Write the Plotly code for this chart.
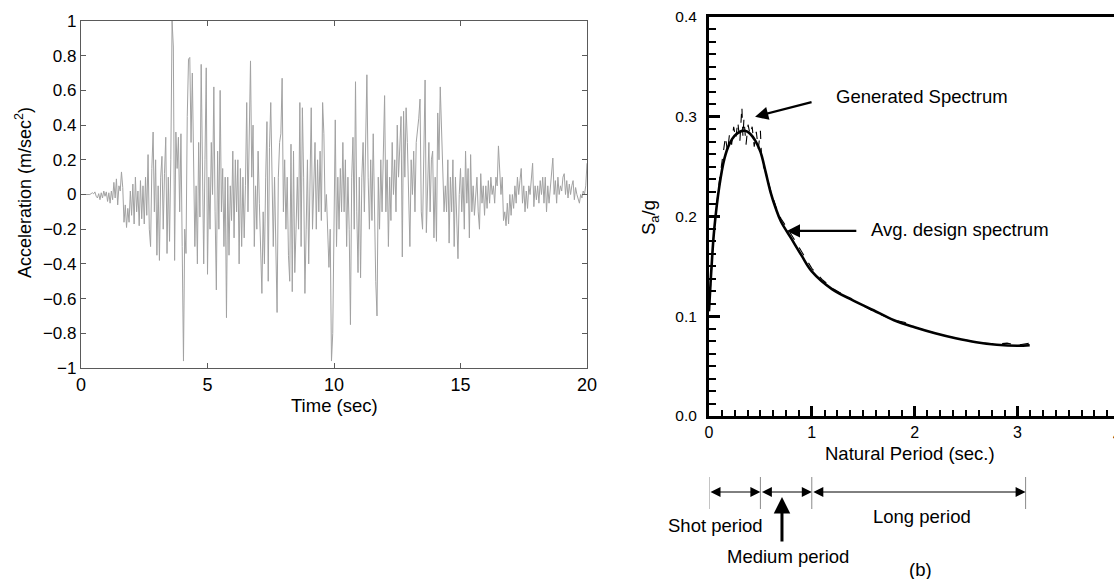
import plotly.graph_objects as go

# ---------------- Left panel: acceleration time history ----------------
TIME_STEP = 0.05  # seconds between samples
accel = [
    # 0-1 s
    0, 0, 0, 0, 0.002, 0, 0.003, 0, 0.005, 0.01, 0.004, 0.015, -0.01, -0.02, 0.005, -0.03, 0.01, -0.02, 0.02, -0.01,
    # 1-2 s
    0.015, -0.04, 0.01, -0.05, 0.02, -0.03, 0.07, -0.02, 0.09, -0.06, 0.05, 0.02, 0.13, 0.04, -0.16, -0.06, -0.19, -0.08, -0.16, 0.02,
    # 2-3 s
    -0.12, 0.06, -0.17, 0.1, -0.1, 0.02, -0.18, 0.08, -0.14, 0.05, -0.17, 0.1, -0.12, 0.23, -0.2, -0.3, 0.15, 0.36, -0.1, 0.2,
    # 3-4 s
    -0.35, 0.05, -0.38, 0.1, 0.22, -0.2, 0.12, 0.33, -0.34, 0.1, -0.27, 0.2, 1.0, 0.85, -0.38, 0.36, 0.15, 0.33, -0.1, 0.35,
    # 4-5 s
    -0.3, -0.96, -0.2, -0.34, 0.45, 0.78, 0.79, 0.3, 0.7, 0.2, -0.3, 0.05, -0.4, 0.3, -0.13, 0.75, -0.05, -0.4, 0.2, 0.73,
    # 5-6 s
    -0.46, 0.1, -0.2, 0.3, 0.0, 0.62, -0.1, -0.55, 0.25, -0.2, 0.6, -0.1, 0.15, -0.3, 0.1, -0.71, 0.1, -0.35, 0.05, -0.15,
    # 6-7 s
    0.25, -0.25, 0.2, -0.1, 0.2, -0.4, 0.15, -0.3, 0.1, -0.25, 0.05, 0.53, -0.1, 0.4, 0.77, 0.1, 0.4, -0.3, 0.05, -0.2,
    # 7-8 s
    0.25, -0.05, -0.3, -0.57, -0.1, -0.4, 0.1, 0.42, -0.5, 0.27, 0.53, 0.1, -0.3, 0.1, -0.2, -0.68, 0.1, 0.3, 0.35, 0.67,
    # 8-9 s
    -0.1, 0.2, -0.2, 0.1, -0.35, -0.5, 0.29, -0.56, 0.25, -0.45, -0.2, 0.1, -0.2, 0.53, -0.3, 0.5, 0.1, -0.57, -0.2, 0.2,
    # 9-10 s
    -0.4, 0.0, 0.5, -0.2, 0.1, 0.3, -0.2, 0.2, -0.1, 0.25, -0.15, 0.53, 0.35, -0.1, 0.0, -0.25, -0.42, -0.2, -0.96, -0.8,
    # 10-11 s
    -0.3, 0.43, -0.3, 0.1, -0.2, 0.15, -0.1, 0.3, -0.1, 0.2, -0.3, 0.1, -0.2, -0.75, 0.1, 0.33, -0.2, 0.65, -0.1, -0.45,
    # 11-12 s
    0.1, -0.48, 0.1, 0.3, -0.1, 0.4, 0.69, 0.1, -0.2, 0.2, -0.15, 0.35, -0.1, -0.5, -0.7, 0.1, -0.2, 0.2, -0.1, 0.3,
    # 12-13 s
    0.57, -0.1, 0.2, -0.3, 0.1, -0.15, 0.3, 0.0, 0.2, -0.1, 0.4, 0.1, 0.3, 0.45, -0.36, 0.48, 0.1, 0.5, 0.3, -0.1,
    # 13-14 s
    -0.3, 0.2, 0.0, 0.25, -0.1, 0.3, 0.36, 0.44, 0.55, -0.1, -0.2, 0.2, 0.66, -0.22, 0.1, 0.3, -0.1, 0.2, 0.25, -0.25,
    # 14-15 s
    0.1, -0.27, 0.47, 0.2, 0.62, 0.4, 0.15, -0.1, 0.05, -0.1, 0.2, -0.28, 0.1, -0.1, 0.2, -0.3, 0.1, -0.2, -0.37, 0.0,
    # 15-16 s
    0.15, -0.1, 0.1, -0.2, 0.25, -0.05, 0.15, -0.25, 0.23, -0.1, 0.05, -0.12, 0.0, 0.1, -0.1, -0.2, 0.12, -0.05, 0.05, -0.12,
    # 16-17 s
    0.05, -0.08, 0.08, -0.05, 0.1, 0.0, 0.05, -0.05, 0.1, 0.05, 0.28, 0.1, 0.0, 0.1, -0.15, -0.1, -0.18, -0.05, -0.17, 0.0,
    # 17-18 s
    -0.12, 0.0, -0.08, 0.05, -0.05, 0.1, 0.0, 0.08, 0.15, -0.05, 0.05, -0.1, 0.02, -0.08, 0.05, 0.0, 0.1, 0.18, -0.07, 0.05,
    # 18-19 s
    -0.03, 0.05, -0.05, 0.08, 0.0, 0.1, -0.05, 0.1, -0.1, 0.05, -0.05, 0.05, 0.12, 0.21, 0.0, 0.08, -0.05, 0.1, 0.0, 0.05,
    # 19-20 s
    0.02, 0.1, 0.12, 0.0, 0.08, -0.02, 0.06, 0.0, 0.05, 0.08, -0.03, 0.04, 0.0, -0.03, -0.05, 0.0, -0.02, 0.02, 0.0, 0.05, 0.18,
]
time = [round(i * TIME_STEP, 3) for i in range(len(accel))]

left_xticks = [0, 5, 10, 15, 20]
left_yticks = [-1, -0.8, -0.6, -0.4, -0.2, 0, 0.2, 0.4, 0.6, 0.8, 1]
left_yticklabels = ["\u22121", "\u22120.8", "\u22120.6", "\u22120.4", "\u22120.2", "0",
                    "0.2", "0.4", "0.6", "0.8", "1"]

# ---------------- Right panel: response spectra ----------------
avg_T = [0, 0.025, 0.05, 0.1, 0.15, 0.2, 0.25, 0.3, 0.35, 0.4, 0.45, 0.5, 0.55, 0.6, 0.65,
         0.7, 0.8, 0.9, 1.0, 1.2, 1.4, 1.6, 1.8, 2.0, 2.2, 2.4, 2.6, 2.8, 3.0, 3.12]
avg_Sa = [0.105, 0.15, 0.186, 0.23, 0.258, 0.273, 0.281, 0.285, 0.286, 0.283, 0.276, 0.265, 0.245,
          0.224, 0.208, 0.195, 0.178, 0.161, 0.145, 0.127, 0.116, 0.106, 0.096, 0.089, 0.083,
          0.078, 0.074, 0.0715, 0.0705, 0.071]

gen_T = [0, 0.025, 0.05, 0.1, 0.12, 0.14, 0.16, 0.18, 0.2, 0.22, 0.24, 0.26, 0.28, 0.30, 0.31,
         0.32, 0.33, 0.34, 0.36, 0.38, 0.40, 0.42, 0.44, 0.46, 0.48, 0.50, 0.51, 0.53, 0.55, 0.6,
         0.65, 0.7, 0.8, 0.9, 1.0, 1.1, 1.2, 1.4, 1.6, 1.8, 1.9, 2.0, 2.2, 2.4, 2.6, 2.8, 2.9,
         3.0, 3.12]
gen_Sa = [0.105, 0.152, 0.19, 0.235, 0.25, 0.262, 0.28, 0.265, 0.283, 0.272, 0.29, 0.278, 0.295,
          0.275, 0.3, 0.31, 0.28, 0.298, 0.272, 0.292, 0.282, 0.29, 0.27, 0.285, 0.268, 0.286,
          0.262, 0.25, 0.245, 0.226, 0.21, 0.198, 0.182, 0.165, 0.148, 0.137, 0.128, 0.116,
          0.105, 0.096, 0.094, 0.089, 0.083, 0.078, 0.074, 0.072, 0.073, 0.071, 0.073]

right_xticks = [0, 1, 2, 3]
right_yticks = [0.0, 0.1, 0.2, 0.3, 0.4]
right_yticklabels = ["0.0", "0.1", "0.2", "0.3", "0.4"]

# Period ranges (sec)
period_bounds = [0.0, 0.5, 1.0, 3.08]
medium_arrow_T = 0.71
generated_arrow_point = (0.448, 0.300)
avg_arrow_point = (0.757, 0.1855)

W, H = 1114, 579
FONT = "Liberation Sans, Arial, sans-serif"


def px(x):
    return x / W


def py(y):
    return (H - y) / H


fig = go.Figure()
fig.add_trace(go.Scatter(x=time, y=accel, mode="lines",
                         line=dict(color="#a2a2a2", width=1),
                         xaxis="x", yaxis="y", showlegend=False, hoverinfo="skip"))
fig.add_trace(go.Scatter(x=gen_T, y=gen_Sa, mode="lines",
                         line=dict(color="black", width=1.1, dash="dash"),
                         xaxis="x2", yaxis="y2", showlegend=False, hoverinfo="skip"))
fig.add_trace(go.Scatter(x=avg_T, y=avg_Sa, mode="lines",
                         line=dict(color="black", width=2.6, shape="spline"),
                         xaxis="x2", yaxis="y2", showlegend=False, hoverinfo="skip"))

grey = "#5a5a5a"
fig.update_layout(
    width=W, height=H, autosize=False,
    margin=dict(l=0, r=0, t=0, b=0, pad=0, autoexpand=False),
    paper_bgcolor="white", plot_bgcolor="white",
    font=dict(family=FONT, color="black", size=16),
    xaxis=dict(domain=[px(81), px(587)], range=[0, 20], anchor="y", automargin=False,
               tickmode="array", tickvals=left_xticks, ticks="inside", ticklen=5,
               tickcolor=grey, showline=True, linecolor=grey, linewidth=1.2,
               mirror="ticks", showgrid=False, zeroline=False,
               tickfont=dict(size=18)),
    yaxis=dict(domain=[py(368), py(21)], range=[-1, 1], anchor="x", automargin=False,
               tickmode="array", tickvals=left_yticks, ticktext=left_yticklabels,
               ticks="inside", ticklen=5, tickcolor=grey, showline=True,
               linecolor=grey, linewidth=1.2, mirror="ticks", showgrid=False,
               zeroline=False, tickfont=dict(size=17)),
    xaxis2=dict(domain=[px(709), 1.0], range=[0, 3.94], anchor="y2", automargin=False,
                tickmode="array", tickvals=right_xticks, ticks="inside", ticklen=10,
                tickwidth=3, tickcolor="black", showline=True, linecolor="black",
                linewidth=3, mirror=True, showgrid=False, zeroline=False,
                tickfont=dict(size=16),
                minor=dict(tickmode="linear", tick0=0, dtick=0.125, ticks="inside",
                           ticklen=6, tickwidth=2, tickcolor="black", showgrid=False)),
    yaxis2=dict(domain=[py(416), py(17)], range=[0, 0.4], anchor="x2", automargin=False,
                tickmode="array", tickvals=right_yticks, ticktext=right_yticklabels,
                ticks="inside", ticklen=11, tickwidth=3, tickcolor="black",
                showline=True, linecolor="black", linewidth=3, showgrid=False,
                zeroline=False, tickfont=dict(size=15.5), ticklabelstandoff=6,
                minor=dict(tickmode="linear", tick0=0, dtick=0.0125, ticks="inside",
                           ticklen=7, tickwidth=2, tickcolor="black", showgrid=False)),
)


def label(text, x, y, size=18.5, angle=0):
    return dict(text=text, x=px(x), y=py(y), xref="paper", yref="paper",
                xanchor="center", yanchor="middle", showarrow=False,
                textangle=angle, font=dict(size=size))


ann = []
# axis titles (placed as text)
ann.append(label("Acceleration (m/sec<sup>2</sup>)", 23, 193, 18, -90))
ann.append(label("Time (sec)", 334, 405))
ann.append(label("S<sub>a</sub>/g", 650, 218, 18.5, -90))
ann.append(label("Natural Period (sec.)", 910, 453))
ann.append(label("4", 1117, 435, 16))
# callouts
ann.append(label("Generated Spectrum", 922, 96))
ann.append(dict(text="", x=generated_arrow_point[0], y=generated_arrow_point[1], xref="x2",
                yref="y2", showarrow=True, ax=58, ay=-15, axref="pixel", ayref="pixel",
                arrowhead=2, arrowsize=1.2, arrowwidth=2.2, arrowcolor="black", standoff=0))
ann.append(label("Avg. design spectrum", 960, 229))
ann.append(dict(text="", x=avg_arrow_point[0], y=avg_arrow_point[1], xref="x2", yref="y2",
                showarrow=True, ax=71, ay=0, axref="pixel", ayref="pixel",
                arrowhead=2, arrowsize=1.2, arrowwidth=2.2, arrowcolor="black", standoff=0))
# period double arrows
bar_y = py(492)
for a, b in zip(period_bounds[:-1], period_bounds[1:]):
    ann.append(dict(text="", x=b, y=bar_y, xref="x2", yref="paper", ax=a, ay=0,
                    axref="x2", ayref="pixel", showarrow=True, arrowside="end+start",
                    arrowhead=2, startarrowhead=2, arrowsize=2, startarrowsize=2,
                    arrowwidth=1, arrowcolor="black", standoff=0, startstandoff=0))
ann.append(dict(text="", x=medium_arrow_T, y=py(497), xref="x2", yref="paper",
                ax=0, ay=46, axref="pixel", ayref="pixel", showarrow=True,
                arrowhead=2, arrowsize=1.1, arrowwidth=3, arrowcolor="black", standoff=0))
ann.append(label("Shot period", 715, 525))
ann.append(label("Medium period", 788, 556))
ann.append(label("Long period", 922, 516))
ann.append(label("(b)", 920, 569))
fig.update_layout(annotations=ann)

shapes = []
for b in period_bounds:
    shapes.append(dict(type="line", xref="x2", yref="paper", x0=b, x1=b,
                       y0=py(509), y1=py(477), line=dict(color="#8a8a8a", width=1)))
fig.update_layout(shapes=shapes)

fig.write_html("out.html")
